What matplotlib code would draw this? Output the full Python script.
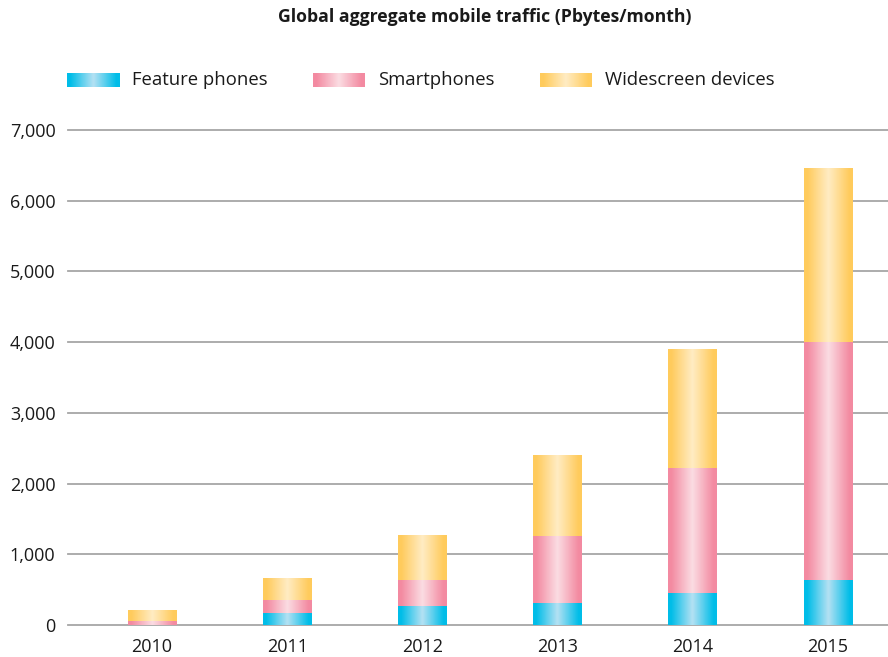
#!/usr/bin/env python3

import matplotlib
matplotlib.use('Agg')
import matplotlib.pyplot as plt  # type: ignore
import numpy as np  # type: ignore
from matplotlib.colors import LinearSegmentedColormap, to_rgb  # type: ignore

plt.rcParams['font.family'] = ['Open Sans', 'DejaVu Sans']

years = ['2010', '2011', '2012', '2013', '2014', '2015']
feature_phones = [4, 170, 269, 311, 457, 641]
smartphones = [48, 184, 367, 948, 1768, 3362]
widescreen = [160, 311, 637, 1145, 1679, 2461]

series_names = ['Feature phones', 'Smartphones', 'Widescreen devices']
y_ticks = [0, 1000, 2000, 3000, 4000, 5000, 6000, 7000]

# (edge colour, centre colour) for the horizontal gradient of each series
gradients = [('#00bde8', '#b5e1f3'),
             ('#f38aa1', '#fbdde3'),
             ('#ffcb5c', '#ffecc4')]

TEXT = '#1a1a1a'
GRID = '#a6a6a6'


def gradient_image(edge: str, centre: str, n: int = 64) -> np.ndarray:
    cmap = LinearSegmentedColormap.from_list(
        'g', [(0.0, to_rgb(edge)), (0.06, to_rgb(edge)),
              (0.5, to_rgb(centre)), (0.94, to_rgb(edge)),
              (1.0, to_rgb(edge))])
    return cmap(np.linspace(0, 1, n))[np.newaxis, :, :]


fig = plt.figure(figsize=(8.88, 6.57), dpi=100)
W, H = 888, 657
ax = fig.add_axes((68 / W, 32 / H, 820 / W, 507 / H))

x = np.arange(len(years))
width = 0.36
bottoms = np.zeros(len(years))
for values, (edge, centre) in zip([feature_phones, smartphones, widescreen],
                                  gradients):
    bars = ax.bar(x, values, width, bottom=bottoms, color='none',
                  edgecolor='none', zorder=3)
    img = gradient_image(edge, centre)
    for bar in bars:
        x0, y0 = bar.get_x(), bar.get_y()
        im = ax.imshow(img, extent=(x0, x0 + bar.get_width(), y0,
                                    y0 + bar.get_height()),
                       aspect='auto', interpolation='bilinear', zorder=3)
        im.set_clip_path(bar)
    bottoms += np.array(values)

ax.set_xlim(-0.621, 5.444)
ax.set_ylim(0, 7170)
ax.set_xticks(x)
ax.set_xticklabels(years)
ax.set_yticks(y_ticks)
ax.set_yticklabels([f'{v:,}' for v in y_ticks])
ax.tick_params(axis='both', length=0, labelsize=13, labelcolor=TEXT)
ax.tick_params(axis='y', pad=9)
ax.tick_params(axis='x', pad=9)
for v in y_ticks:
    ax.axhline(v, color=GRID, linewidth=1.3, zorder=1, clip_on=False)
for spine in ax.spines.values():
    spine.set_visible(False)

fig.text(485 / W, 1 - 17 / H, 'Global aggregate mobile traffic (Pbytes/month)',
         ha='center', va='center', fontsize=12.7, fontweight='bold',
         color=TEXT)

# legend with gradient swatches
swatch_x = [67, 313, 540]
for sx, name, (edge, centre) in zip(swatch_x, series_names, gradients):
    sax = fig.add_axes((sx / W, 1 - 87 / H, 52 / W, 14 / H))
    sax.imshow(gradient_image(edge, centre), aspect='auto',
               interpolation='bilinear')
    sax.set_axis_off()
    fig.text((sx + 65) / W, 1 - 80 / H, name, ha='left', va='center',
             fontsize=13.3, color=TEXT)

fig.savefig('out.png', dpi=100)
